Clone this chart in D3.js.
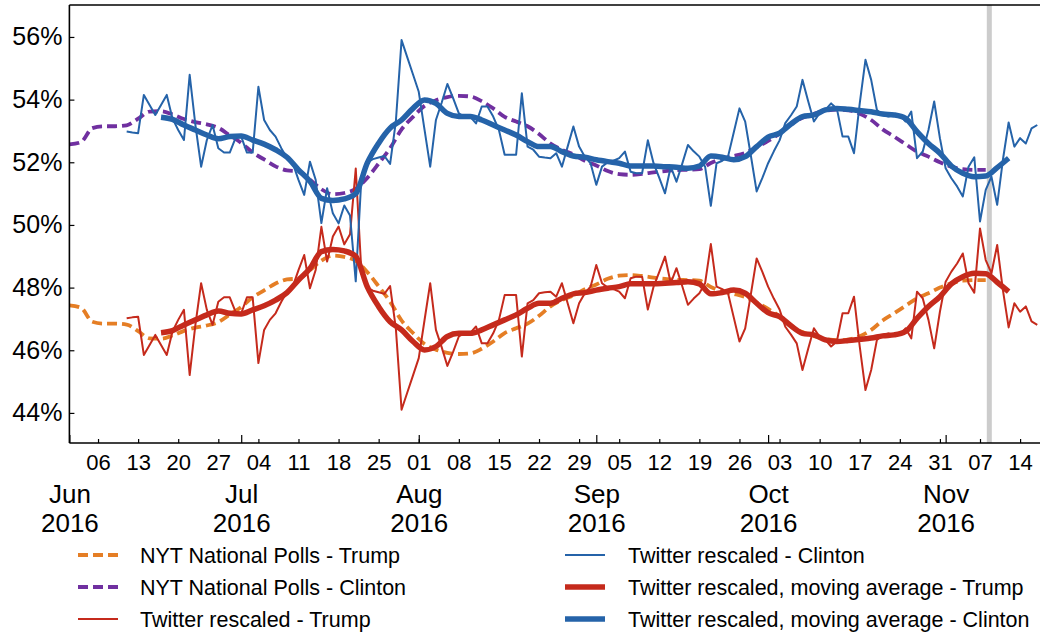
<!DOCTYPE html>
<html>
<head>
<meta charset="utf-8">
<script src="https://cdn.jsdelivr.net/npm/d3@7"></script>
<style>
  body { margin: 0; background: #fff; }
  svg { display: block; font-family: "Liberation Sans", Arial, Helvetica, sans-serif; }
</style>
</head>
<body>
<div id="chart"></div>
<script>
// NYT national polls, one value every 2 days from Jun 1 to Nov 8
var pollStart = new Date(2016, 5, 1), pollStep = 2;
var pollClinton = [
  52.57, 52.64, 53.09, 53.15, 53.15, 53.18, 53.39, 53.62, 53.63, 53.53,
  53.38, 53.28, 53.21, 53.10, 52.86, 52.62, 52.31, 52.09, 51.87, 51.74,
  51.71, 51.44, 51.14, 50.98, 51.02, 51.15, 51.50, 51.96, 52.45, 53.05,
  53.45, 53.80, 53.98, 54.08, 54.12, 54.10, 53.95, 53.72, 53.45, 53.30,
  53.15, 52.90, 52.60, 52.40, 52.25, 52.05, 51.90, 51.72, 51.62, 51.60,
  51.63, 51.68, 51.72, 51.75, 51.76, 51.78, 51.98, 52.12, 52.20, 52.30,
  52.48, 52.68, 52.92, 53.22, 53.42, 53.55, 53.64, 53.68, 53.66, 53.55,
  53.35, 53.05, 52.82, 52.58, 52.34, 52.18, 52.00, 51.86, 51.78, 51.76,
  51.76
];
var pollTrump = [
  47.43, 47.36, 46.91, 46.85, 46.85, 46.82, 46.61, 46.38, 46.37, 46.47,
  46.62, 46.72, 46.79, 46.90, 47.14, 47.38, 47.69, 47.91, 48.13, 48.26,
  48.29, 48.56, 48.86, 49.02, 48.98, 48.85, 48.50, 48.04, 47.55, 46.95,
  46.55, 46.20, 46.02, 45.92, 45.88, 45.90, 46.05, 46.28, 46.55, 46.70,
  46.85, 47.10, 47.40, 47.60, 47.75, 47.95, 48.10, 48.28, 48.38, 48.40,
  48.37, 48.32, 48.28, 48.25, 48.24, 48.22, 48.02, 47.88, 47.80, 47.70,
  47.52, 47.32, 47.08, 46.78, 46.58, 46.45, 46.36, 46.32, 46.34, 46.45,
  46.65, 46.95, 47.18, 47.42, 47.66, 47.82, 48.00, 48.14, 48.22, 48.24,
  48.24
];

// Twitter rescaled, daily from Jun 11 to Nov 17
var twStart = new Date(2016, 5, 11);
var twClinton = [
  52.98, 52.95, 52.93, 54.15, 53.83, 53.51, 53.83, 54.15, 53.40, 53.03,
  52.71, 54.79, 53.19, 51.86, 52.71, 53.19, 52.45, 52.31, 52.31, 52.77,
  52.82, 52.31, 52.31, 54.41, 53.35, 53.03, 52.82, 52.45, 52.13, 51.97,
  51.44, 50.96, 52.02, 51.44, 50.06, 51.17, 50.37, 50.05, 50.62, 50.30,
  48.20, 51.55, 52.00, 52.10, 52.15, 52.20, 51.95, 53.30, 55.90, 55.35,
  54.80, 54.25, 53.05, 51.86, 53.35, 53.90, 54.50, 54.05, 53.56, 53.45,
  53.45, 53.24, 53.78, 53.78, 53.46, 53.03, 52.24, 52.24, 52.24, 54.20,
  52.50, 52.40, 52.18, 52.15, 52.13, 52.29, 51.86, 52.50, 53.14, 52.50,
  52.18, 51.97, 51.28, 51.86, 52.00, 52.05, 52.13, 52.34, 51.70, 51.65,
  51.65, 52.70, 51.97, 51.50, 51.01, 51.86, 51.38, 51.95, 52.55, 52.35,
  52.18, 51.86, 50.61, 51.97, 52.05, 52.18, 52.95, 53.72, 53.30, 52.20,
  51.07, 51.50, 51.97, 52.35, 52.70, 53.25, 53.50, 53.78, 54.63, 53.95,
  53.30, 53.57, 53.67, 53.88, 53.72, 52.82, 52.82, 52.29, 53.88, 55.27,
  54.63, 53.67, 53.51, 53.46, 53.51, 53.51, 53.30, 53.62, 52.13, 52.34,
  53.03, 53.94, 52.77, 51.81, 51.49, 51.23, 50.91, 51.86, 52.16, 50.11,
  51.12, 51.54, 50.64, 52.08, 53.27, 52.50, 52.77, 52.60, 53.08, 53.19
];
var twTrump = [
  47.02, 47.05, 47.07, 45.85, 46.17, 46.49, 46.17, 45.85, 46.60, 46.97,
  47.29, 45.21, 46.81, 48.14, 47.29, 46.81, 47.55, 47.69, 47.69, 47.23,
  47.18, 47.69, 47.69, 45.59, 46.65, 46.97, 47.18, 47.55, 47.87, 48.03,
  48.56, 49.04, 47.98, 48.56, 49.94, 48.83, 49.63, 49.95, 49.38, 49.70,
  51.80, 48.45, 48.00, 47.90, 47.85, 47.80, 48.05, 46.70, 44.10, 44.65,
  45.20, 45.75, 46.95, 48.14, 46.65, 46.10, 45.50, 45.95, 46.44, 46.55,
  46.55, 46.76, 46.22, 46.22, 46.54, 46.97, 47.76, 47.76, 47.76, 45.80,
  47.50, 47.60, 47.82, 47.85, 47.87, 47.71, 48.14, 47.50, 46.86, 47.50,
  47.82, 48.03, 48.72, 48.14, 48.00, 47.95, 47.87, 47.66, 48.30, 48.35,
  48.35, 47.30, 48.03, 48.50, 48.99, 48.14, 48.62, 48.05, 47.45, 47.65,
  47.82, 48.14, 49.39, 48.03, 47.95, 47.82, 47.05, 46.28, 46.70, 47.80,
  48.93, 48.50, 48.03, 47.65, 47.30, 46.75, 46.50, 46.22, 45.37, 46.05,
  46.70, 46.43, 46.33, 46.12, 46.28, 47.18, 47.18, 47.71, 46.12, 44.73,
  45.37, 46.33, 46.49, 46.54, 46.49, 46.49, 46.70, 46.38, 47.87, 47.66,
  46.97, 46.06, 47.23, 48.19, 48.51, 48.77, 49.09, 48.14, 47.84, 49.89,
  48.88, 48.46, 49.36, 47.92, 46.73, 47.50, 47.23, 47.40, 46.92, 46.81
];

// moving average, one value every 2 days from Jun 17 to Nov 12
var maStart = new Date(2016, 5, 17), maStep = 2;
var maClinton = [
  53.44, 53.37, 53.19, 53.03, 52.87, 52.75, 52.82, 52.84, 52.71, 52.58,
  52.40, 52.16, 51.76, 51.39, 50.85, 50.78, 50.83, 51.00, 51.97, 52.61,
  53.09, 53.35, 53.72, 53.99, 53.88, 53.56, 53.46, 53.46, 53.35, 53.19,
  53.03, 52.87, 52.66, 52.50, 52.50, 52.34, 52.20, 52.16, 52.08, 52.02,
  51.97, 51.88, 51.88, 51.88, 51.86, 51.84, 51.81, 51.88, 52.20, 52.16,
  52.08, 52.18, 52.50, 52.80, 52.93, 53.22, 53.46, 53.51, 53.67, 53.72,
  53.69, 53.65, 53.61, 53.54, 53.51, 53.40, 52.98, 52.60, 52.29, 51.88,
  51.65, 51.54, 51.56, 51.83, 52.13
];
var maTrump = [
  46.56, 46.63, 46.81, 46.97, 47.13, 47.25, 47.18, 47.16, 47.29, 47.42,
  47.60, 47.84, 48.24, 48.61, 49.15, 49.22, 49.17, 49.00, 48.03, 47.39,
  46.91, 46.65, 46.28, 46.01, 46.12, 46.44, 46.54, 46.54, 46.65, 46.81,
  46.97, 47.13, 47.34, 47.50, 47.50, 47.66, 47.80, 47.84, 47.92, 47.98,
  48.03, 48.12, 48.12, 48.12, 48.14, 48.16, 48.19, 48.12, 47.80, 47.84,
  47.92, 47.82, 47.50, 47.20, 47.07, 46.78, 46.54, 46.49, 46.33, 46.28,
  46.31, 46.35, 46.39, 46.46, 46.49, 46.60, 47.02, 47.40, 47.71, 48.12,
  48.35, 48.46, 48.44, 48.17, 47.87
];

var yTicks = [44, 46, 48, 50, 52, 54, 56];
var electionDay = new Date(2016, 10, 8, 15);

var width = 1040, height = 634;
var plotLeft = 69.4, plotRight = 1043, plotTop = 5, plotBottom = 443;

var svg = d3.select('#chart').append('svg')
  .attr('width', width)
  .attr('height', height);

var x = d3.scaleTime()
  .domain([new Date(2016, 5, 1), new Date(2016, 10, 18)])
  .range([plotLeft, plotRight]);
var y = d3.scaleLinear()
  .domain([43.04, 57.02])
  .range([plotBottom, plotTop]);

svg.append('clipPath').attr('id', 'plotclip')
  .append('rect')
  .attr('x', plotLeft).attr('y', plotTop)
  .attr('width', plotRight - plotLeft).attr('height', plotBottom - plotTop);

var plot = svg.append('g').attr('clip-path', 'url(#plotclip)');

// election day band
plot.append('rect')
  .attr('x', x(electionDay) - 2.5)
  .attr('y', plotTop)
  .attr('width', 5)
  .attr('height', plotBottom - plotTop)
  .attr('fill', '#cccccc');

function toPoints(start, step, values) {
  return values.map(function (v, i) {
    return { date: d3.timeDay.offset(start, i * step), value: v };
  });
}

var series = [
  { name: 'NYT National Polls - Trump', data: toPoints(pollStart, pollStep, pollTrump), color: '#E57E25', width: 3.8, dash: '10,5', curve: d3.curveMonotoneX },
  { name: 'NYT National Polls - Clinton', data: toPoints(pollStart, pollStep, pollClinton), color: '#7030A0', width: 3.8, dash: '10,5', curve: d3.curveMonotoneX },
  { name: 'Twitter rescaled - Trump', data: toPoints(twStart, 1, twTrump), color: '#C52A1C', width: 2, dash: null, curve: d3.curveLinear },
  { name: 'Twitter rescaled - Clinton', data: toPoints(twStart, 1, twClinton), color: '#2563A9', width: 2, dash: null, curve: d3.curveLinear },
  { name: 'Twitter rescaled, moving average - Trump', data: toPoints(maStart, maStep, maTrump), color: '#C52A1C', width: 5.5, dash: null, curve: d3.curveMonotoneX },
  { name: 'Twitter rescaled, moving average - Clinton', data: toPoints(maStart, maStep, maClinton), color: '#2563A9', width: 5.5, dash: null, curve: d3.curveMonotoneX }
];

series.forEach(function (s) {
  var line = d3.line()
    .x(function (d) { return x(d.date); })
    .y(function (d) { return y(d.value); })
    .curve(s.curve);
  plot.append('path')
    .datum(s.data)
    .attr('d', line)
    .attr('fill', 'none')
    .attr('stroke', s.color)
    .attr('stroke-width', s.width)
    .attr('stroke-dasharray', s.dash)
    .attr('stroke-linejoin', 'round');
});

// axes
var minorAxis = d3.axisBottom(x)
  .ticks(d3.timeMonday)
  .tickFormat(d3.timeFormat('%d'))
  .tickSize(-4)
  .tickPadding(11);
var gMinor = svg.append('g')
  .attr('transform', 'translate(0,' + plotBottom + ')')
  .call(minorAxis);
gMinor.selectAll('text').attr('font-size', 22).attr('fill', '#000');

var majorAxis = d3.axisBottom(x)
  .ticks(d3.timeMonth)
  .tickFormat('')
  .tickSize(-8);
var gMajor = svg.append('g')
  .attr('transform', 'translate(0,' + plotBottom + ')')
  .call(majorAxis);
gMajor.selectAll('.tick').each(function (d) {
  var t = d3.select(this).select('text')
    .attr('font-size', 26).attr('fill', '#000').attr('dy', null).attr('y', 0);
  t.append('tspan').attr('x', 0).attr('y', 60).text(d3.timeFormat('%b')(d));
  t.append('tspan').attr('x', 0).attr('y', 89).text(d3.timeFormat('%Y')(d));
});

var yAxis = d3.axisLeft(y)
  .tickValues(yTicks)
  .tickFormat(function (d) { return d + '%'; })
  .tickSize(-5)
  .tickPadding(7);
var gY = svg.append('g')
  .attr('transform', 'translate(' + plotLeft + ',0)')
  .call(yAxis);
gY.selectAll('text').attr('font-size', 25).attr('fill', '#000');

svg.selectAll('.domain').remove();
svg.selectAll('.tick line').attr('stroke', '#000').attr('stroke-width', 1.2);

// frame
var frame = svg.append('g').attr('stroke', '#000').attr('stroke-width', 1.6);
frame.append('line').attr('x1', plotLeft).attr('x2', plotRight).attr('y1', plotBottom).attr('y2', plotBottom);
frame.append('line').attr('x1', plotLeft).attr('x2', plotRight).attr('y1', plotTop).attr('y2', plotTop);
frame.append('line').attr('x1', plotLeft).attr('x2', plotLeft).attr('y1', plotTop).attr('y2', plotBottom);

// legend: two columns, filled column first
var legend = svg.append('g');
var colX = [78, 565], textX = [140, 628], rowY = [555, 587, 619];
series.forEach(function (s, i) {
  var c = Math.floor(i / 3), r = i % 3;
  var g = legend.append('g');
  g.append('line')
    .attr('x1', colX[c]).attr('x2', colX[c] + 40)
    .attr('y1', rowY[r]).attr('y2', rowY[r])
    .attr('stroke', s.color)
    .attr('stroke-width', s.width)
    .attr('stroke-dasharray', s.dash);
  g.append('text')
    .attr('x', textX[c]).attr('y', rowY[r])
    .attr('dy', '0.35em')
    .attr('font-size', 21.5)
    .text(s.name);
});
</script>
</body>
</html>
